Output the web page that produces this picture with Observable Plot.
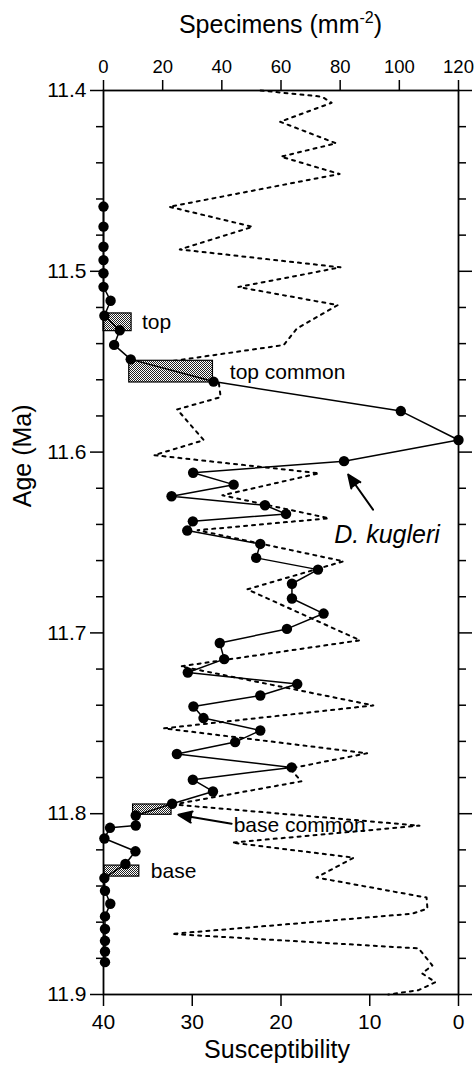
<!DOCTYPE html>
<html>
<head>
<meta charset="utf-8">
<script src="https://cdn.jsdelivr.net/npm/d3@7"></script>
<script src="https://cdn.jsdelivr.net/npm/@observablehq/plot@0.6"></script>
<style>
  html, body { margin: 0; padding: 0; background: #fff; }
  #chart svg { display: block; }
</style>
</head>
<body>
<div id="chart"></div>
<script>
// Sample ages (Ma) and D. kugleri abundance (specimens per mm²)
const sampleAge = [
  11.4642, 11.4753, 11.4864, 11.4938, 11.5011, 11.5086, 11.5163, 11.5246,
  11.5326, 11.5407, 11.5487, 11.5610, 11.5773, 11.5933, 11.6050, 11.6114,
  11.6180, 11.6244, 11.6294, 11.6342, 11.6383, 11.6434, 11.6508, 11.6585,
  11.6650, 11.6728, 11.6810, 11.6893, 11.6978, 11.7056, 11.7145, 11.7219,
  11.7283, 11.7346, 11.7407, 11.7471, 11.7540, 11.7604, 11.7670, 11.7744,
  11.7812, 11.7877, 11.7945, 11.8010, 11.8065, 11.8078, 11.8137, 11.8208,
  11.8278, 11.8356, 11.8426, 11.8498, 11.8568, 11.8638, 11.8703, 11.8762,
  11.8821
];
const specimens = [
  0, 0, 0, 0, 0, 0, 2.4, 0.3,
  5.5, 3.6, 9.2, 37.2, 100.5, 120, 81.3, 30.3,
  44, 23, 54.6, 61.7, 30.2, 28.3, 53, 51.6,
  72.5, 63.7, 63.7, 74.4, 62, 39.3, 40.8, 28.5,
  65.5, 53, 30.4, 33.8, 53, 44.5, 24.8, 63.6,
  30.2, 37, 23.2, 10.9, 10.9, 2.2, 0.3, 10.8,
  7.4, 0.3, 0.5, 2.3, 0.5, 0.5, 0.5, 0.5,
  0.5
];

// Magnetic susceptibility record
const suscAge = [
  11.4000, 11.4034, 11.4068, 11.4173, 11.4292, 11.4366, 11.4462, 11.4643,
  11.4754, 11.4879, 11.4978, 11.5087, 11.5187, 11.5316, 11.5408, 11.5513,
  11.5619, 11.5696, 11.5764, 11.5934, 11.6017, 11.6117, 11.6239, 11.6366,
  11.6432, 11.6604, 11.6759, 11.7041, 11.7185, 11.7401, 11.7528, 11.7666,
  11.7750, 11.7821, 11.7949, 11.8066, 11.8160, 11.8243, 11.8353, 11.8464,
  11.8525, 11.8553, 11.8665, 11.8745, 11.8839, 11.8883, 11.8932, 11.8976,
  11.9000
];
const susceptibility = [
  22.3, 15.4, 14.3, 20.1, 13.8, 20.0, 13.4, 32.6,
  23.2, 31.4, 13.3, 24.8, 13.6, 18.2, 19.7, 34.6,
  27.0, 26.8, 31.7, 28.7, 34.3, 15.7, 26.6, 14.6,
  29.4, 12.95, 23.8, 11.1, 31.3, 9.6, 33.2, 10.3,
  19.0, 17.7, 32.1, 4.4, 25.5, 11.8, 16.0, 3.6,
  3.5, 5.2, 32.3, 4.5, 2.95, 4.1, 2.6, 4.5,
  7.9
];

// Datum levels: age interval and abundance span of each shaded box
const datumLabel = ["top", "top common", "base common", "base"];
const datumAgeTop = [11.5233, 11.5495, 11.7949, 11.8287];
const datumAgeBottom = [11.5331, 11.5615, 11.8006, 11.8348];
const datumFrom = [0, 8.7, 10, 0.3];
const datumTo = [9.5, 37, 23, 12.1];

// Axis ticks
const specimenTicks = [0, 20, 40, 60, 80, 100, 120];
const suscTicks = [40, 30, 20, 10, 0];
const ageTicks = [11.4, 11.5, 11.6, 11.7, 11.8, 11.9];

// Susceptibility runs 40 → 0 across the same width as specimens 0 → 120
const suscToX = s => (40 - s) * 3;
const xToSusc = x => Math.round(40 - x / 3);

const samples = sampleAge.map((age, i) => ({age, n: specimens[i]}));
const susc = suscAge.map((age, i) => ({age, s: susceptibility[i]}));
const datums = datumLabel.map((label, i) => ({
  label, y1: datumAgeTop[i], y2: datumAgeBottom[i], x1: datumFrom[i], x2: datumTo[i]
}));
const minorAgeTicks = d3.range(0, 26).filter(i => i % 5 !== 0).map(i => 11.4 + i * 0.02);

const font = "'Liberation Sans', Arial, Helvetica, sans-serif";

// Fine checker fill for the datum boxes
function checkerDefs() {
  const defs = d3.create("svg:defs");
  const p = defs.append("pattern")
    .attr("id", "checker").attr("width", 2).attr("height", 2)
    .attr("patternUnits", "userSpaceOnUse");
  p.append("rect").attr("width", 2).attr("height", 2).attr("fill", "#fff");
  p.append("rect").attr("width", 1).attr("height", 1).attr("fill", "#222");
  p.append("rect").attr("x", 1).attr("y", 1).attr("width", 1).attr("height", 1).attr("fill", "#222");
  return defs.node();
}

// Top axis title with a superscript exponent
function topTitle(index, scales, values, dim) {
  const t = d3.create("svg:text")
    .attr("x", (dim.marginLeft + dim.width - dim.marginRight) / 2)
    .attr("y", 33)
    .attr("text-anchor", "middle")
    .attr("font-family", font)
    .attr("font-size", 25)
    .attr("fill", "#000");
  t.append("tspan").text("Specimens (mm");
  t.append("tspan").attr("font-size", 16).attr("dy", -10).text("-2");
  t.append("tspan").attr("dy", 10).text(")");
  return t.node();
}

// Label anchors for the datum boxes (data units)
const labelAt = [[13.0, 11.528], [42.7, 11.5556], [44.0, 11.8065], [16.0, 11.8318]];
const boxLabels = datumLabel.map((t, i) => ({t, x: labelAt[i][0], y: labelAt[i][1]}));

const chart = Plot.plot({
  width: 474,
  height: 1071,
  marginTop: 90,
  marginBottom: 77,
  marginLeft: 103,
  marginRight: 16,
  style: {fontFamily: font, fontSize: "21px", color: "#000", background: "#fff"},
  x: {domain: [0, 120]},
  y: {domain: [11.4, 11.9], reverse: true},
  marks: [
    checkerDefs,
    Plot.line(susc, {
      x: d => suscToX(d.s), y: "age",
      stroke: "#000", strokeWidth: 2, strokeDasharray: "3,5"
    }),
    Plot.rect(datums, {
      x1: "x1", x2: "x2", y1: "y1", y2: "y2",
      fill: "url(#checker)", stroke: "#000", strokeWidth: 1.2
    }),
    Plot.line(samples, {x: "n", y: "age", stroke: "#000", strokeWidth: 1.5}),
    Plot.dot(samples, {x: "n", y: "age", r: 5.2, fill: "#000", stroke: "none"}),
    Plot.frame({stroke: "#000", strokeWidth: 1.8}),
    Plot.axisX({anchor: "top", ticks: specimenTicks, tickSize: 11, tickPadding: 7,
      fontSize: 18.5, strokeWidth: 1.5, label: null}),
    Plot.axisX({anchor: "bottom", ticks: suscTicks.map(suscToX), tickFormat: xToSusc,
      tickSize: 12, tickPadding: 8, strokeWidth: 1.5, label: null}),
    Plot.axisY({anchor: "left", ticks: ageTicks, tickFormat: d3.format(".1f"),
      tickSize: 13, tickPadding: 4, strokeWidth: 1.5, label: null}),
    Plot.axisY({anchor: "left", ticks: minorAgeTicks, tickFormat: () => "",
      tickSize: 7, strokeWidth: 1.5, label: null}),
    Plot.axisY({anchor: "right", ticks: ageTicks, tickFormat: () => "",
      tickSize: 13, strokeWidth: 1.5, label: null}),
    Plot.axisY({anchor: "right", ticks: minorAgeTicks, tickFormat: () => "",
      tickSize: 7, strokeWidth: 1.5, label: null}),
    topTitle,
    Plot.text(["Susceptibility"], {frameAnchor: "bottom", dy: 63, dx: -4, fontSize: 25}),
    Plot.text(["Age (Ma)"], {frameAnchor: "left", y: () => 11.6305, dx: -81, rotate: -90, fontSize: 25}),
    Plot.text(boxLabels, {x: "x", y: "y", text: "t", textAnchor: "start", fontSize: 21}),
    Plot.text(["D. kugleri"], {x: () => 78, y: () => 11.646, textAnchor: "start",
      fontSize: 25, fontStyle: "italic"}),
    Plot.arrow([{x1: 91.1, y1: 11.6318, x2: 82.7, y2: 11.6124},
                {x1: 43.3, y1: 11.8055, x2: 25.3, y2: 11.8006}], {
      x1: "x1", y1: "y1", x2: "x2", y2: "y2",
      stroke: "#000", fill: "#000", strokeWidth: 2, headLength: 11, headAngle: 45
    })
  ]
});

document.getElementById("chart").append(chart);
</script>
</body>
</html>
